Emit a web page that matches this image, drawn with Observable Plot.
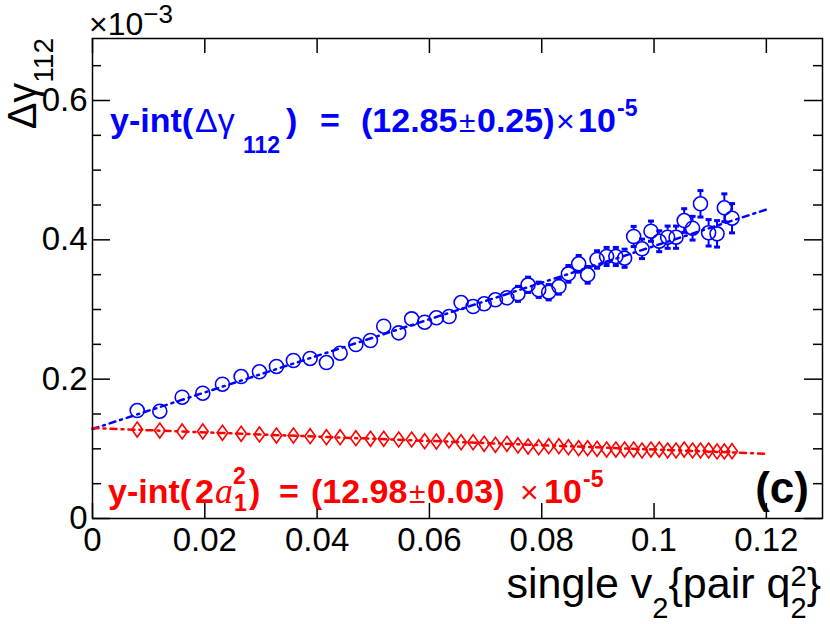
<!DOCTYPE html>
<html>
<head>
<meta charset="utf-8">
<script src="https://cdn.jsdelivr.net/npm/d3@7"></script>
<script src="https://cdn.jsdelivr.net/npm/@observablehq/plot@0.6"></script>
<style>
  html, body { margin: 0; padding: 0; background: white; }
  svg { display: block; }
</style>
</head>
<body>
<div id="chart"></div>
<script>
// ---- data (y in units of 1e-3) ----
const xVals = [0.00796, 0.01198, 0.01597, 0.01964, 0.02314, 0.02647, 0.02973, 0.03276, 0.03578, 0.03876,
               0.04166, 0.0441, 0.0469, 0.0495, 0.05186, 0.05453, 0.05683, 0.05915, 0.06124, 0.0635,
               0.06564, 0.06778, 0.06975, 0.07175, 0.0738, 0.07577, 0.07757, 0.07946, 0.08124, 0.08306,
               0.08475, 0.08658, 0.08818, 0.08985, 0.09155, 0.0932, 0.09476, 0.09637, 0.09786, 0.09945,
               0.10092, 0.10242, 0.10392, 0.10537, 0.10686, 0.10827, 0.10972, 0.11122, 0.11252, 0.11389];
const dgVals = [0.1550, 0.1540, 0.1741, 0.1798, 0.1928, 0.2038, 0.2106, 0.2182, 0.2268, 0.2297,
                0.2239, 0.2373, 0.2497, 0.2555, 0.2760, 0.2665, 0.2866, 0.2818, 0.2881, 0.2899,
                0.3100, 0.3043, 0.3082, 0.3139, 0.3168, 0.3225, 0.3354, 0.3283, 0.3248, 0.3330,
                0.3512, 0.3656, 0.3498, 0.3718, 0.3761, 0.3761, 0.3736, 0.4048, 0.3871, 0.4124,
                0.3980, 0.4038, 0.4038, 0.4277, 0.4167, 0.4517, 0.4101, 0.4086, 0.4460, 0.4310];
const dgErr = [0.005, 0.005, 0.005, 0.005, 0.005, 0.006, 0.006, 0.006, 0.006, 0.006,
               0.007, 0.007, 0.007, 0.007, 0.008, 0.008, 0.008, 0.008, 0.008, 0.009,
               0.009, 0.009, 0.009, 0.010, 0.010, 0.0108, 0.011, 0.011, 0.011, 0.011,
               0.012, 0.012, 0.012, 0.0125, 0.013, 0.013, 0.013, 0.0145, 0.014, 0.0145,
               0.015, 0.016, 0.016, 0.017, 0.017, 0.019, 0.019, 0.019, 0.020, 0.021];
const a1Vals = [0.1277, 0.1263, 0.1249, 0.1249, 0.1230, 0.1216, 0.1206, 0.1191, 0.1191, 0.1181,
                0.1167, 0.1167, 0.1153, 0.1144, 0.1144, 0.1134, 0.1134, 0.1110, 0.1105, 0.1120,
                0.1095, 0.1095, 0.1072, 0.1058, 0.1072, 0.1048, 0.1033, 0.1023, 0.1038, 0.1038,
                0.1023, 0.1009, 0.1009, 0.1000, 0.0990, 0.0990, 0.0990, 0.0990, 0.0976, 0.0990,
                0.0990, 0.0976, 0.0976, 0.0990, 0.0976, 0.0976, 0.0976, 0.0962, 0.0962, 0.0966];
const fitX = [0, 0.12];
const dgFit = [0.1285, 0.4435];
const a1Fit = [0.1298, 0.0929];

const xTicks = [0, 0.02, 0.04, 0.06, 0.08, 0.1, 0.12];
const xTickLabels = ["0", "0.02", "0.04", "0.06", "0.08", "0.1", "0.12"];
const yTicks = [0, 0.2, 0.4, 0.6];
const yTickLabels = ["0", "0.2", "0.4", "0.6"];
const yMinorTicks = [0.05, 0.1, 0.15, 0.25, 0.3, 0.35, 0.45, 0.5, 0.55, 0.65];

// ---- layout ----
const W = 830, H = 624;
const mL = 92, mR = 8, mT = 38, mB = 106;
const innerW = W - mL - mR, innerH = H - mT - mB;
const xDomain = [0, 0.13], yDomain = [0, 0.689];
const markerR = 7;
const gap = markerR * (yDomain[1] - yDomain[0]) / innerH; // marker radius in data units

const BLUE = "#0000ff", RED = "#ff0000";

const blue = xVals.map((x, i) => ({x, y: dgVals[i], e: dgErr[i]}));
const red = xVals.map((x, i) => ({x, y: a1Vals[i]}));
const blueFit = fitX.map((x, i) => ({x, y: dgFit[i]}));
const redFit = fitX.map((x, i) => ({x, y: a1Fit[i]}));
const blueErr = blue.filter(d => d.e > gap);

const diamondSym = {
  draw(ctx, size) {
    const r = Math.sqrt(size / Math.PI);
    const w = r * 0.72;
    ctx.moveTo(0, -r); ctx.lineTo(w, 0); ctx.lineTo(0, r); ctx.lineTo(-w, 0); ctx.closePath();
  }
};
const capSym = {
  draw(ctx, size) {
    const r = Math.sqrt(size / Math.PI);
    ctx.moveTo(-r, 0); ctx.lineTo(r, 0);
  }
};

const chart = Plot.plot({
  width: W, height: H,
  marginLeft: mL, marginRight: mR, marginTop: mT, marginBottom: mB,
  style: {fontFamily: "'Liberation Sans', Arial, sans-serif", color: "black", background: "white"},
  x: {domain: xDomain, label: null},
  y: {domain: yDomain, label: null},
  marks: [
    Plot.axisX({ticks: xTicks, tickSize: 0, tickPadding: 9, fontSize: 33,
                tickFormat: d => xTickLabels[xTicks.indexOf(d)], label: null}),
    Plot.axisY({ticks: yTicks, tickSize: 0, tickPadding: 5, fontSize: 33,
                tickFormat: d => yTickLabels[yTicks.indexOf(d)], label: null}),
    // inward ticks
    Plot.tickX(xTicks, {x: d => d, insetTop: innerH - 15, stroke: "black", strokeWidth: 1.5}),
    Plot.tickX(xTicks, {x: d => d, insetBottom: innerH - 15, stroke: "black", strokeWidth: 1.5}),
    Plot.tickY(yTicks, {y: d => d, insetRight: innerW - 18, stroke: "black", strokeWidth: 1.5}),
    Plot.tickY(yTicks, {y: d => d, insetLeft: innerW - 18, stroke: "black", strokeWidth: 1.5}),
    Plot.tickY(yMinorTicks, {y: d => d, insetRight: innerW - 9, stroke: "black", strokeWidth: 1.5}),
    Plot.tickY(yMinorTicks, {y: d => d, insetLeft: innerW - 9, stroke: "black", strokeWidth: 1.5}),
    // error bars (outside the marker, ROOT style)
    Plot.ruleX(blueErr, {x: "x", y1: d => d.y + gap, y2: d => d.y + d.e, stroke: BLUE, strokeWidth: 2}),
    Plot.ruleX(blueErr, {x: "x", y1: d => d.y - gap, y2: d => d.y - d.e, stroke: BLUE, strokeWidth: 2}),
    Plot.dot(blueErr, {x: "x", y: d => d.y + d.e, symbol: capSym, r: 3, stroke: BLUE, strokeWidth: 3, fill: "none"}),
    Plot.dot(blueErr, {x: "x", y: d => d.y - d.e, symbol: capSym, r: 3, stroke: BLUE, strokeWidth: 3, fill: "none"}),
    // markers
    Plot.dot(blue, {x: "x", y: "y", r: markerR, stroke: BLUE, strokeWidth: 1.6, fill: "none"}),
    Plot.dot(red, {x: "x", y: "y", r: 7.5, symbol: diamondSym, stroke: RED, strokeWidth: 1.6, fill: "none"}),
    // fits
    Plot.line(blueFit, {x: "x", y: "y", stroke: BLUE, strokeWidth: 2.5, strokeDasharray: "6,5,2,5"}),
    Plot.line(redFit, {x: "x", y: "y", stroke: RED, strokeWidth: 2.5, strokeDasharray: "6,5,2,5"}),
    Plot.frame({stroke: "black", strokeWidth: 1.5})
  ]
});
document.getElementById("chart").appendChild(chart);

// ---- annotations ----
const svg = d3.select(chart);
const ann = svg.append("g")
  .attr("font-family", "'Liberation Sans', Arial, sans-serif")
  .attr("text-anchor", "start");

function pieces(list, fill) {
  list.forEach(p => {
    ann.append("text")
      .attr("x", p.x).attr("y", p.y)
      .attr("font-size", p.s)
      .attr("font-weight", p.w === undefined ? "bold" : p.w)
      .attr("font-style", p.it ? "italic" : null)
      .attr("font-family", p.f || null)
      .attr("fill", fill)
      .text(p.t);
  });
}

// blue fit result
pieces([
  {t: "y-int(", x: 110, y: 132, s: 34},
  {t: "Δγ", x: 195, y: 132, s: 34, w: "normal"},
  {t: "112", x: 243, y: 153, s: 23},
  {t: ")", x: 286, y: 132, s: 34},
  {t: "=", x: 320, y: 132, s: 34},
  {t: "(12.85", x: 361, y: 132, s: 34},
  {t: "±", x: 459, y: 132, s: 30, w: "normal"},
  {t: "0.25)", x: 477, y: 132, s: 34},
  {t: "×", x: 556, y: 132, s: 32, w: "normal"},
  {t: "10", x: 578, y: 132, s: 34},
  {t: "-5", x: 617, y: 116, s: 23}
], BLUE);

// red fit result
pieces([
  {t: "y-int(", x: 108, y: 503, s: 34},
  {t: "2", x: 195, y: 503, s: 34},
  {t: "a", x: 215, y: 503, s: 36, w: "normal", it: true, f: "'Liberation Serif', 'Times New Roman', serif"},
  {t: "2", x: 233, y: 484, s: 23},
  {t: "1", x: 234, y: 511, s: 23},
  {t: ")", x: 249, y: 503, s: 34},
  {t: "=", x: 279, y: 503, s: 34},
  {t: "(12.98", x: 311, y: 503, s: 34},
  {t: "±", x: 409, y: 503, s: 30, w: "normal"},
  {t: "0.03)", x: 427, y: 503, s: 34},
  {t: "×", x: 520, y: 503, s: 32, w: "normal"},
  {t: "10", x: 544, y: 503, s: 34},
  {t: "-5", x: 583, y: 487, s: 23}
], RED);

// panel label
ann.append("text").attr("x", 809).attr("y", 503).attr("text-anchor", "end")
  .attr("font-size", 44).attr("font-weight", "bold").attr("fill", "black").text("(c)");

// exponent at top of y axis
const ex = ann.append("text").attr("x", 89).attr("y", 35).attr("font-size", 32).attr("fill", "black");
ex.append("tspan").text("×10");
ex.append("tspan").attr("font-size", 26).attr("dy", -12).text("−3");

// x axis title
const xt = ann.append("text").attr("x", 821).attr("y", 598).attr("text-anchor", "end")
  .attr("font-size", 43).attr("fill", "black");
xt.append("tspan").text("single v");
xt.append("tspan").attr("font-size", 29).attr("dy", 20).text("2");
xt.append("tspan").attr("dy", -20).text("{pair q");
xt.append("tspan").attr("font-size", 29).attr("dy", -12).text("2");
xt.append("tspan").attr("font-size", 29).attr("dx", -16.1).attr("dy", 32).text("2");
xt.append("tspan").attr("dy", -20).text("}");

// y axis title (rotated)
const yt = ann.append("text").attr("transform", "translate(36,38) rotate(-90)")
  .attr("text-anchor", "end").attr("font-size", 40).attr("fill", "black");
yt.append("tspan").text("Δγ");
yt.append("tspan").attr("font-size", 28).attr("dy", 17).text("112");
</script>
</body>
</html>
